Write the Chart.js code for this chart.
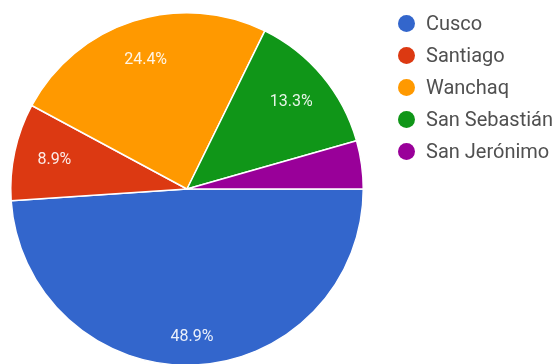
<!DOCTYPE html>
<html>
<head>
<meta charset="utf-8">
<script src="https://cdn.jsdelivr.net/npm/chart.js@4"></script>
<style>
  html, body { margin: 0; padding: 0; background: #fff; overflow: hidden; }
  .wrap { position: relative; width: 558px; height: 368px; }
  #pie { position: absolute; left: 0; top: 0; }
  .legend { position: absolute; left: 398px; top: 7px; font-family: Roboto, sans-serif; font-size: 20px; color: #505050; }
  .legend div { height: 32px; display: flex; align-items: center; }
  .legend span.dot { width: 17px; height: 17px; border-radius: 50%; margin-right: 11px; display: inline-block; }
</style>
</head>
<body>
<div class="wrap">
  <canvas id="pie" width="558" height="368"></canvas>
  <div class="legend" id="legend"></div>
</div>
<script>
const districts = ['Cusco', 'Santiago', 'Wanchaq', 'San Sebastián', 'San Jerónimo'];
const shares = [48.9, 8.9, 24.4, 13.3, 4.4];
const colors = ['#3366cc', '#dc3912', '#ff9900', '#109618', '#990099'];

// legend built from the same arrays
const legendEl = document.getElementById('legend');
districts.forEach((name, i) => {
    const row = document.createElement('div');
    row.innerHTML = `<span class="dot" style="background:${colors[i]}"></span>${name}`;
    legendEl.appendChild(row);
});

// percentage text inside each slice, skipped for thin slices
const sliceLabels = {
    id: 'sliceLabels',
    afterDatasetsDraw(chart) {
        const ctx = chart.ctx;
        const meta = chart.getDatasetMeta(0);
        ctx.save();
        ctx.font = '16px Roboto, sans-serif';
        ctx.fillStyle = 'rgba(255,255,255,0.9)';
        ctx.textAlign = 'center';
        ctx.textBaseline = 'middle';
        meta.data.forEach((arc, i) => {
            if (shares[i] < 5) return;
            const mid = (arc.startAngle + arc.endAngle) / 2;
            const r = arc.outerRadius * (shares[i] > 40 ? 0.84 : 0.77);
            ctx.fillText(shares[i].toFixed(1) + '%', arc.x + Math.cos(mid) * r, arc.y + Math.sin(mid) * r);
        });
        ctx.restore();
    }
};

new Chart(document.getElementById('pie'), {
    type: 'pie',
    data: {
        labels: districts,
        datasets: [{ data: shares, backgroundColor: colors, borderColor: '#ffffff', borderWidth: 1.5 }]
    },
    options: {
        responsive: false,
        animation: false,
        rotation: 90,
        layout: { padding: { left: 10, top: 12, right: 194, bottom: 2 } },
        plugins: { legend: { display: false }, tooltip: { enabled: false } }
    },
    plugins: [sliceLabels]
});
</script>
</body>
</html>
